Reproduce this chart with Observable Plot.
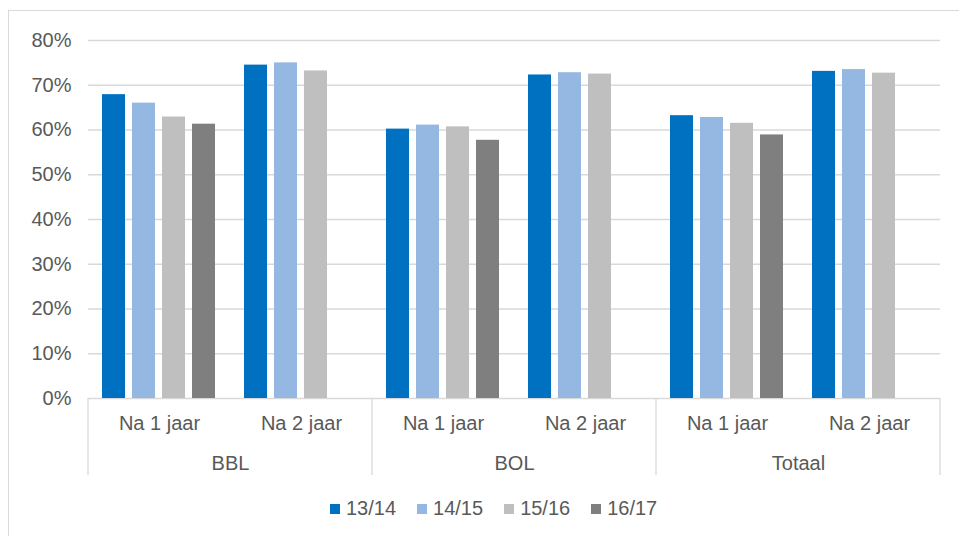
<!DOCTYPE html>
<html>
<head>
<meta charset="utf-8">
<script src="https://cdn.jsdelivr.net/npm/d3@7"></script>
<script src="https://cdn.jsdelivr.net/npm/@observablehq/plot@0.6"></script>
<style>
  html, body { margin: 0; padding: 0; background: #fff; overflow: hidden; width: 959px; height: 536px; }
  body { position: relative; font-family: "Liberation Sans", Arial, sans-serif; }
  #frame { position: absolute; left: 8px; top: 10px; width: 1000px; height: 600px; border: 1px solid #d9d9d9; box-sizing: border-box; }
  #chart { position: absolute; left: 0; top: 0; }
  #legend { position: absolute; left: 330px; top: 497px; display: flex; align-items: center; font-size: 20px; color: #595959; }
  #legend .item { display: flex; align-items: center; margin-right: 21px; }
  #legend .sw { width: 10px; height: 10px; margin-right: 6px; }
</style>
</head>
<body>
<div id="frame"></div>
<div id="chart"></div>
<div id="legend"></div>
<script>
const groups = ["BBL", "BOL", "Totaal"];
const periods = ["Na 1 jaar", "Na 2 jaar"];
const series = ["13/14", "14/15", "15/16", "16/17"];
const colors = ["#0070C0", "#95B8E2", "#BFBFBF", "#7F7F7F"];
const yTicks = [0, 0.1, 0.2, 0.3, 0.4, 0.5, 0.6, 0.7, 0.8];

const bblNa1 = [0.679, 0.660, 0.629, 0.613];
const bblNa2 = [0.745, 0.750, 0.732];
const bolNa1 = [0.602, 0.611, 0.607, 0.577];
const bolNa2 = [0.723, 0.728, 0.725];
const totNa1 = [0.632, 0.628, 0.615, 0.589];
const totNa2 = [0.731, 0.735, 0.727];

const valuesByGroup = {
  "BBL": [bblNa1, bblNa2],
  "BOL": [bolNa1, bolNa2],
  "Totaal": [totNa1, totNa2]
};

const keys = [];
groups.forEach(g => periods.forEach(p => keys.push(g + "|" + p)));

const data = [];
groups.forEach(g => periods.forEach((p, pi) => {
  valuesByGroup[g][pi].forEach((v, si) => {
    data.push({key: g + "|" + p, group: g, period: p, series: series[si], value: v});
  });
}));

const subLabels = keys.map(k => ({key: k, label: k.split("|")[1]}));
const groupLabels = groups.map(g => ({key: g + "|" + periods[0], label: g}));

const textColor = "#595959";
const gridColor = "#d9d9d9";

const plot = Plot.plot({
  width: 959,
  height: 480,
  marginLeft: 87,
  marginRight: 19,
  marginTop: 40,
  marginBottom: 82,
  style: {fontFamily: "'Liberation Sans', Arial, sans-serif", background: "transparent", overflow: "visible"},
  fx: {domain: keys, padding: 0, axis: null, label: null},
  x: {type: "band", domain: series, paddingInner: 0.233, paddingOuter: 0.483, axis: null, label: null},
  y: {domain: [0, 0.8], axis: null, label: null},
  color: {domain: series, range: colors},
  marks: [
    Plot.ruleY(yTicks, {stroke: gridColor, strokeWidth: 1.3}),
    Plot.barY(data, {fx: "key", x: "series", y: "value", fill: "series"}),
    Plot.axisY(yTicks, {anchor: "left", label: null, tickSize: 0, tickPadding: 17, tickFormat: d3.format(".0%"), fontSize: 20, color: textColor}),
    Plot.text(subLabels, {fx: "key", text: "label", frameAnchor: "bottom", dy: 25, lineAnchor: "middle", textAnchor: "middle", fontSize: 20, fill: textColor}),
    Plot.text(groupLabels, {fx: "key", text: "label", frameAnchor: "bottom-right", dy: 65, lineAnchor: "middle", textAnchor: "middle", fontSize: 20, fill: textColor})
  ]
});

document.getElementById("chart").appendChild(plot);

// group separators drawn from the plot's own fx and y scales
const fx = plot.scale("fx");
const ys = plot.scale("y");
const y0 = ys.apply(0);
const sepX = groups.map(g => fx.apply(g + "|" + periods[0]));
sepX.push(fx.apply(keys[keys.length - 1]) + fx.bandwidth);
const svg = d3.select(plot);
svg.append("g")
  .selectAll("line")
  .data(sepX)
  .join("line")
  .attr("x1", d => d).attr("x2", d => d)
  .attr("y1", y0).attr("y2", y0 + 77)
  .attr("stroke", gridColor)
  .attr("stroke-width", 1.3);

// legend
const legend = d3.select("#legend");
series.forEach((s, i) => {
  const item = legend.append("div").attr("class", "item");
  item.append("div").attr("class", "sw").style("background", colors[i]);
  item.append("span").text(s);
});
</script>
</body>
</html>
